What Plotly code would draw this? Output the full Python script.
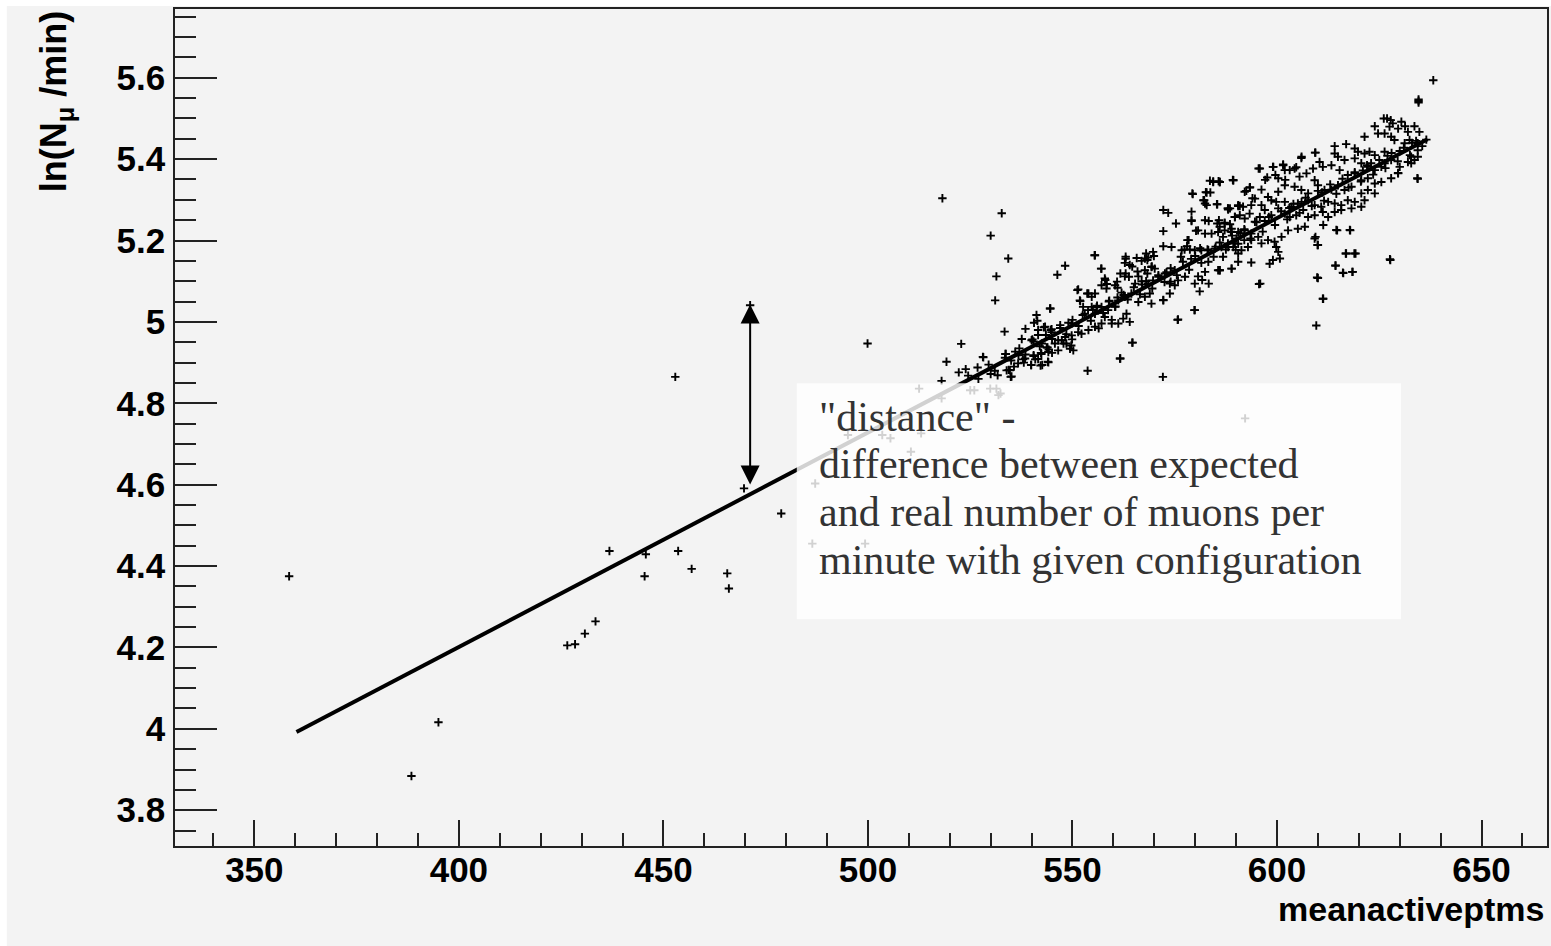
import plotly.graph_objects as go

# ---------------- data ----------------
# fitted line (expected value)
fit_x = [360.3, 636.8]
fit_y = [3.992, 5.449]

# isolated measurements far from the main cloud
outlier_points = [
    [358.5, 4.375], [388.4, 3.884], [395.0, 4.016], [426.5, 4.205], [428.4, 4.208],
    [430.8, 4.234], [433.4, 4.264], [436.8, 4.437], [445.7, 4.429], [445.4, 4.375],
    [452.9, 4.865], [453.6, 4.437], [456.9, 4.393], [465.6, 4.382], [466.0, 4.345],
    [469.7, 4.591], [471.2, 5.041], [478.8, 4.529], [499.9, 4.947],
    [512.5, 4.836], [518.0, 4.812], [525.0, 4.832], [526.0, 4.832], [529.9, 4.836],
    [531.4, 4.836], [532.4, 4.824], [531.9, 4.820], [495.1, 4.722], [503.5, 4.722],
    [505.5, 4.714], [513.0, 4.726], [510.5, 4.681], [487.1, 4.603], [592.2, 4.763],
    [486.4, 4.455], [499.3, 4.455],
]

# lower part of the cloud (meanactiveptms ~ 515-546)
cloud_low = [
    [518.2, 5.304], [532.7, 5.267], [530.0, 5.212], [534.3, 5.156], [531.4, 5.112],
    [531.1, 5.053], [522.8, 4.946], [519.2, 4.902], [518.0, 4.855], [522.2, 4.876],
    [523.9, 4.884], [526.8, 4.888], [528.2, 4.913], [530.0, 4.872], [531.7, 4.869],
    [534.4, 4.882], [535.1, 4.866], [533.4, 4.976], [537.6, 4.958], [538.5, 4.983],
    [540.2, 4.957], [541.2, 5.017], [541.4, 5.003], [543.0, 4.987], [544.6, 5.033],
    [544.7, 4.980], [533.6, 4.921], [536.0, 4.927], [536.8, 4.918], [537.9, 4.908],
    [540.5, 4.918], [540.9, 4.908], [542.4, 4.921], [543.7, 4.937], [544.1, 4.901],
    [542.2, 4.893], [539.9, 4.894], [540.6, 4.998], [544.9, 4.982], [541.6, 4.980],
    [541.6, 4.968], [540.0, 4.955], [528.1, 4.914], [533.7, 4.921], [533.9, 4.881],
    [534.7, 4.881], [534.9, 4.865], [535.7, 4.890], [536.7, 4.898], [538.1, 4.900],
    [538.4, 4.910], [539.9, 4.894], [540.5, 4.916], [541.6, 4.909], [542.3, 4.924],
    [542.6, 4.894], [544.0, 4.902], [544.2, 4.932], [545.0, 4.924], [543.9, 4.937],
    [545.7, 4.947],
]

# middle part of the cloud (meanactiveptms ~ 542-592)
cloud_mid = [
    [547.0, 4.992], [547.4, 4.955], [548.5, 4.947], [549.7, 4.942], [549.9, 4.957],
    [551.2, 5.078], [551.9, 5.051], [552.5, 5.017], [553.6, 5.070], [553.8, 5.029],
    [555.4, 5.164], [555.9, 5.036], [556.4, 4.984], [557.0, 5.131], [558.0, 5.103],
    [558.4, 5.093], [558.9, 5.050], [559.6, 5.005], [560.9, 5.099], [561.7, 5.119],
    [562.5, 5.066], [563.0, 5.155], [564.0, 5.140], [564.6, 5.136], [564.6, 4.949],
    [565.9, 5.124], [566.9, 5.150], [568.0, 5.168], [568.3, 5.119], [568.3, 5.152],
    [569.4, 5.136], [569.9, 5.162], [561.7, 4.910], [553.7, 4.880], [572.1, 4.865],
    [575.7, 5.005], [579.8, 5.029], [572.2, 5.054], [574.0, 5.099], [575.0, 5.127],
    [576.5, 5.160], [577.4, 5.178], [578.4, 5.201], [579.1, 5.250], [579.4, 5.314],
    [579.1, 5.271], [580.2, 5.224], [581.2, 5.181], [581.7, 5.103], [582.6, 5.319],
    [582.2, 5.299], [583.2, 5.148], [583.6, 5.347], [584.4, 5.345], [585.3, 5.289],
    [585.7, 5.346], [585.8, 5.250], [586.0, 5.127], [589.2, 5.349], [588.0, 5.279],
    [590.9, 5.285], [588.7, 5.222], [589.9, 5.177], [590.5, 5.148],
    [584.4, 5.344], [586.0, 5.344], [589.3, 5.348], [579.3, 5.316], [582.8, 5.318],
    [583.7, 5.318], [582.0, 5.299], [582.4, 5.291], [582.8, 5.287], [585.4, 5.289],
    [588.05, 5.276], [588.5, 5.279], [590.5, 5.285], [572.2, 5.275], [573.4, 5.268],
    [579.1, 5.248], [575.3, 5.242], [582.4, 5.250], [583.3, 5.248],
    [585.4, 5.242], [587.2, 5.244], [588.5, 5.240], [589.7, 5.258], [572.2, 5.223],
    [580.7, 5.225], [582.4, 5.217], [584.0, 5.217], [585.6, 5.221], [587.2, 5.225],
    [588.9, 5.221], [590.1, 5.205], [578.1, 5.201], [578.0, 5.186], [572.2, 5.186],
    [574.2, 5.184], [576.7, 5.176], [578.7, 5.178], [579.9, 5.176], [581.5, 5.176],
    [583.2, 5.176], [584.8, 5.180], [586.4, 5.184], [588.05, 5.184], [589.7, 5.193],
    [569.7, 5.172], [568.5, 5.158], [567.7, 5.156], [565.7, 5.157], [563.0, 5.160],
    [562.8, 5.145], [555.5, 5.164], [548.2, 5.138], [546.3, 5.116], [557.1, 5.131],
    [557.9, 5.107], [557.1, 5.090], [558.3, 5.082], [553.9, 5.070], [554.7, 5.062],
    [555.5, 5.070], [551.4, 5.080], [560.4, 5.090], [561.0, 5.084], [563.0, 5.119],
    [562.8, 5.112], [563.8, 5.111], [566.1, 5.112], [567.7, 5.127], [569.3, 5.135],
    [570.1, 5.131], [566.9, 5.100], [565.3, 5.094], [568.5, 5.094], [569.7, 5.102],
    [571.0, 5.111], [572.6, 5.119], [573.8, 5.094], [575.0, 5.090], [575.8, 5.102],
    [577.5, 5.111], [579.9, 5.094], [580.7, 5.112], [582.4, 5.123], [585.6, 5.127],
    [588.9, 5.131], [583.3, 5.094], [581.1, 5.075], [579.9, 5.029], [575.8, 5.006],
    [573.8, 5.070], [572.2, 5.053], [569.3, 5.045], [568.9, 5.070], [567.7, 5.062],
    [566.1, 5.049], [564.4, 5.070], [562.8, 5.062], [561.2, 5.053], [560.4, 5.037],
    [558.7, 5.029], [557.9, 5.012], [557.1, 5.037], [555.5, 5.020], [554.7, 5.037],
    [552.6, 5.037], [551.8, 5.053], [563.2, 5.020], [564.0, 5.000], [562.4, 5.008],
    [561.2, 4.996], [559.6, 4.996], [557.1, 4.996], [555.5, 4.988], [553.9, 4.980],
    [552.2, 4.971], [551.4, 4.975], [549.8, 4.967], [548.2, 4.963], [547.8, 4.947],
    [546.5, 4.955], [544.9, 4.975], [543.3, 4.988], [544.5, 5.033], [549.8, 4.996],
    [564.7, 4.949], [561.6, 4.910], [546.5, 4.930], [544.1, 4.926], [542.5, 4.947],
    [549.4, 4.934], [550.2, 4.930],
]

# upper part of the cloud (meanactiveptms ~ 586-639)
cloud_high = [
    [592.0, 5.201], [592.5, 5.322], [593.4, 5.331], [594.0, 5.304], [595.5, 5.377],
    [595.6, 5.093], [597.1, 5.349], [599.1, 5.381], [599.6, 5.361], [601.5, 5.387],
    [602.0, 5.349], [604.3, 5.377], [606.0, 5.406], [609.3, 5.416], [609.4, 5.209],
    [609.9, 5.189], [609.8, 5.109], [611.2, 5.057], [609.6, 4.991], [614.3, 5.139],
    [616.1, 5.121], [618.4, 5.123], [616.8, 5.168], [618.9, 5.168], [614.5, 5.226],
    [617.8, 5.226], [627.6, 5.154], [634.4, 5.352], [634.6, 5.543], [638.2, 5.594],
    [634.6, 5.547], [634.6, 5.539], [626.1, 5.500], [626.9, 5.500], [627.8, 5.496],
    [628.3, 5.488], [630.4, 5.492], [623.9, 5.481], [627.5, 5.480], [629.6, 5.475],
    [631.3, 5.481], [633.6, 5.481], [634.8, 5.467], [632.0, 5.467], [621.4, 5.455],
    [624.7, 5.463], [626.3, 5.463], [627.9, 5.455], [628.7, 5.447], [631.2, 5.439],
    [632.4, 5.447], [634.4, 5.439], [636.5, 5.448], [614.1, 5.432], [616.9, 5.437],
    [619.0, 5.426], [619.8, 5.418], [621.4, 5.414], [622.6, 5.418], [623.9, 5.410],
    [626.3, 5.418], [632.8, 5.406], [633.6, 5.398], [634.4, 5.422], [609.4, 5.416],
    [614.1, 5.414], [614.9, 5.406], [616.5, 5.398], [619.0, 5.402], [620.6, 5.390],
    [622.2, 5.381], [623.9, 5.373], [625.5, 5.381], [626.3, 5.390], [627.9, 5.398],
    [630.0, 5.381], [632.0, 5.393], [632.8, 5.390], [634.4, 5.406], [629.6, 5.366],
    [634.3, 5.353], [605.95, 5.403], [601.5, 5.385], [599.0, 5.381], [595.8, 5.377],
    [597.6, 5.355], [600.3, 5.353], [601.9, 5.373], [603.1, 5.373], [604.7, 5.380],
    [605.5, 5.357], [607.2, 5.365], [608.8, 5.377], [610.4, 5.393], [611.2, 5.381],
    [613.3, 5.385], [615.3, 5.373], [617.3, 5.361], [619.0, 5.365], [620.6, 5.348],
    [622.2, 5.353], [623.9, 5.340], [625.5, 5.344], [627.9, 5.353], [629.6, 5.365],
    [589.3, 5.348], [586.0, 5.344], [592.1, 5.320], [593.3, 5.330], [596.2, 5.325],
    [598.6, 5.299], [600.3, 5.320], [601.9, 5.336], [604.3, 5.332], [605.95, 5.324],
    [607.6, 5.316], [609.2, 5.348], [610.0, 5.336], [611.6, 5.324], [613.3, 5.325],
    [614.9, 5.336], [616.5, 5.324], [618.2, 5.332], [620.6, 5.316], [622.2, 5.324],
    [623.9, 5.316], [621.4, 5.299], [619.0, 5.295], [617.3, 5.299], [615.7, 5.287],
    [614.1, 5.291], [612.5, 5.295], [610.8, 5.283], [609.2, 5.287], [607.6, 5.299],
    [605.1, 5.291], [603.5, 5.283], [601.9, 5.295], [599.8, 5.295], [597.8, 5.307],
    [596.2, 5.287], [594.6, 5.303], [593.7, 5.287], [591.7, 5.283], [590.5, 5.287],
    [588.0, 5.279], [589.7, 5.258], [590.9, 5.262], [592.1, 5.254], [593.3, 5.266],
    [594.6, 5.246], [595.8, 5.258], [597.0, 5.275], [598.6, 5.262], [600.3, 5.279],
    [601.9, 5.266], [603.1, 5.258], [604.7, 5.262], [606.4, 5.275], [607.6, 5.258],
    [609.2, 5.262], [611.2, 5.270], [612.5, 5.258], [614.1, 5.270], [615.7, 5.275],
    [618.2, 5.279], [620.6, 5.283], [606.8, 5.234], [605.1, 5.229], [602.7, 5.225],
    [601.1, 5.209], [599.4, 5.197], [597.8, 5.201], [595.4, 5.209], [593.7, 5.217],
    [592.1, 5.225], [590.5, 5.221], [588.9, 5.229], [587.2, 5.242], [586.0, 5.234],
    [586.8, 5.209], [588.0, 5.193], [589.3, 5.184], [590.5, 5.168], [591.3, 5.176],
    [592.9, 5.184], [593.7, 5.201], [596.2, 5.193], [599.8, 5.184], [600.3, 5.172],
    [599.0, 5.152], [598.2, 5.143], [600.7, 5.156], [593.7, 5.146], [588.9, 5.131],
    [586.8, 5.160], [586.0, 5.127], [609.2, 5.205], [610.0, 5.189], [611.3, 5.238],
    [614.7, 5.225], [617.9, 5.225], [616.9, 5.168], [619.2, 5.168], [614.3, 5.138],
    [616.2, 5.120], [618.5, 5.123], [627.7, 5.152], [610.0, 5.108], [595.9, 5.094],
    [611.3, 5.057],
]

# measurements packed tightly along the fitted line
cloud_core = [
    [524.5, 4.868], [527.0, 4.860], [529.5, 4.895], [531.0, 4.880], [533.5, 4.912],
    [535.0, 4.905], [537.0, 4.935], [538.5, 4.920], [540.5, 4.952], [542.0, 4.940],
    [543.5, 4.968], [545.0, 4.958], [547.0, 4.985], [548.5, 4.970], [550.0, 5.005],
    [551.5, 4.990], [553.0, 5.020], [554.5, 5.003], [556.0, 5.040], [557.5, 5.022],
    [559.0, 5.052], [560.5, 5.038], [562.0, 5.072], [563.5, 5.055], [565.0, 5.085],
    [566.5, 5.068], [568.0, 5.100], [569.5, 5.082], [571.0, 5.115], [572.5, 5.098],
    [574.0, 5.132], [575.5, 5.115], [577.0, 5.148], [578.5, 5.128], [580.0, 5.162],
    [581.5, 5.145], [583.0, 5.178], [584.5, 5.160], [586.0, 5.195], [587.5, 5.178],
    [589.0, 5.212], [590.5, 5.192], [592.0, 5.228], [593.5, 5.205], [595.0, 5.245],
    [596.5, 5.222], [598.0, 5.258], [599.5, 5.238], [601.0, 5.272], [602.5, 5.252],
    [604.0, 5.290], [605.5, 5.268], [607.0, 5.305], [608.5, 5.285], [610.0, 5.322],
    [611.5, 5.298], [613.0, 5.338], [614.5, 5.315], [616.0, 5.352], [617.5, 5.330],
    [619.0, 5.368], [620.5, 5.345], [622.0, 5.385], [623.5, 5.362], [625.0, 5.398],
    [626.5, 5.378], [628.0, 5.415], [629.5, 5.395], [631.0, 5.428], [632.5, 5.410],
    [634.0, 5.445], [635.5, 5.432], [621.0, 5.372], [623.0, 5.390], [627.0, 5.408],
    [630.0, 5.420], [633.0, 5.440], [611.0, 5.318], [606.0, 5.295], [603.0, 5.280],
    [597.0, 5.248], [591.0, 5.218], [585.0, 5.185], [579.0, 5.155], [573.0, 5.122],
    [567.0, 5.092], [561.0, 5.060], [555.0, 5.030], [549.0, 4.998],
]

# "distance" arrow (from the fit line up to one measurement)
arrow_x = 471.2
arrow_y_fit = 4.597
arrow_y_point = 5.043

note_lines = [
    '"distance" -',
    'difference between expected',
    'and real number of muons per',
    'minute with given configuration',
]

x_tick_start, x_dtick, x_minor = 350, 50, 10
y_dtick, y_minor = 0.2, 0.05
x_range = [330.6, 666.0]
y_range = [3.712, 5.769]

# ---------------- figure ----------------
all_points = outlier_points + cloud_low + cloud_mid + cloud_high + cloud_core
px = [p[0] for p in all_points]
py = [p[1] for p in all_points]

AXFONT = "Liberation Sans, Arial, sans-serif"
GREY = "#f3f3f3"

fig = go.Figure()
fig.add_trace(go.Scatter(
    x=px, y=py, mode="markers",
    marker=dict(symbol="cross-thin", size=6, color="black",
                line=dict(width=1.9, color="black")),
    hoverinfo="skip", showlegend=False,
))
fig.add_trace(go.Scatter(
    x=fit_x, y=fit_y, mode="lines",
    line=dict(color="black", width=4),
    hoverinfo="skip", showlegend=False,
))

axis_common = dict(
    ticks="inside", tickwidth=1.5, tickcolor="#222",
    showline=True, linecolor="#222", linewidth=1.5, mirror=True,
    showgrid=False, zeroline=False,
    tickfont=dict(family=AXFONT, size=35, color="black", weight="bold"),
)

fig.update_layout(
    width=1551, height=946,
    margin=dict(l=175, r=2, t=9, b=100),
    paper_bgcolor="white",
    plot_bgcolor=GREY,
    showlegend=False,
    xaxis=dict(
        range=x_range, tick0=x_tick_start, dtick=x_dtick, ticklen=26,
        ticklabelstandoff=-8,
        minor=dict(ticks="inside", ticklen=13, dtick=x_minor, tickwidth=1.5,
                   tickcolor="#222", showgrid=False),
        **axis_common,
    ),
    yaxis=dict(
        range=y_range, tick0=0, dtick=y_dtick, ticklen=42,
        ticklabelstandoff=1,
        minor=dict(ticks="inside", ticklen=21, dtick=y_minor, tickwidth=1.5,
                   tickcolor="#222", showgrid=False),
        **axis_common,
    ),
)

# grey canvas with thin white border on left/top
fig.add_shape(type="rect", xref="paper", yref="paper",
              x0=-0.1226, x1=1.01, y0=-0.2, y1=1.0036,
              fillcolor=GREY, line=dict(width=0), layer="below")

# translucent note box
fig.add_shape(type="rect", xref="x", yref="y",
              x0=482.6, x1=630.3, y0=4.269, y1=4.8495,
              fillcolor="rgba(255,255,255,0.82)", line=dict(width=0), layer="above")

note_y = [4.767, 4.651, 4.534, 4.416]
for txt, yy in zip(note_lines, note_y):
    fig.add_annotation(x=487.5, y=yy, xref="x", yref="y", text=txt,
                       showarrow=False, xanchor="left", yanchor="middle",
                       font=dict(family="Liberation Serif, Times New Roman, serif",
                                 size=42, color="#333333"))

# double-headed arrow
fig.add_annotation(x=arrow_x, y=arrow_y_point, ax=arrow_x, ay=arrow_y_fit,
                   xref="x", yref="y", axref="x", ayref="y", text="",
                   showarrow=True, arrowhead=2, arrowside="end+start",
                   arrowsize=1.9, arrowwidth=2, arrowcolor="black",
                   standoff=0, startstandoff=0)

# axis titles
fig.add_annotation(text="ln(N<sub>μ</sub> /min)", textangle=-90,
                   xref="paper", yref="paper", x=-0.087, y=1.0,
                   xanchor="center", yanchor="top", showarrow=False,
                   font=dict(family=AXFONT, size=36, color="black", weight="bold"))
fig.add_annotation(text="meanactiveptms", xref="paper", yref="paper",
                   x=0.9995, y=(845.7 - 909) / 836.7, xanchor="right", yanchor="middle",
                   showarrow=False,
                   font=dict(family=AXFONT, size=34, color="black", weight="bold"))

fig.write_html("out.html")
